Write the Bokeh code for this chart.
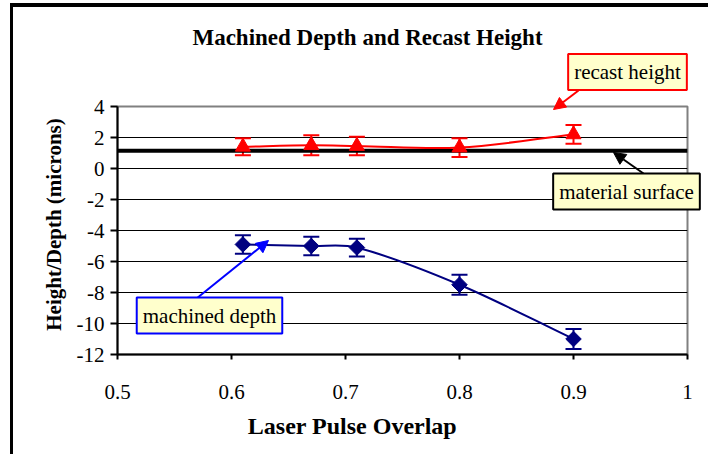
import numpy as np
from bokeh.plotting import figure
from bokeh.layouts import column
from bokeh.models import (Range1d, FixedTicker, NumeralTickFormatter, ColumnDataSource,
                          Whisker, TeeHead, Label, Arrow, NormalHead)
from bokeh.embed import file_html
from bokeh.resources import INLINE

# ---------------- data ----------------
overlap = [0.61, 0.67, 0.71, 0.80, 0.90]
recast_height = [1.4, 1.5, 1.45, 1.35, 2.2]
recast_err = [0.55, 0.65, 0.6, 0.6, 0.6]
machined_depth = [-4.9, -5.0, -5.1, -7.5, -11.0]
machined_err = [0.6, 0.6, 0.57, 0.65, 0.65]
surface_x = [0.5, 1.0]
surface_y = [1.15, 1.15]
x_ticks = [0.5, 0.6, 0.7, 0.8, 0.9, 1.0]
y_ticks = [-12, -10, -8, -6, -4, -2, 0, 2, 4]

RED = "#FF0000"
NAVY = "#000080"
BLUE = "#0000FF"
FONT = "Liberation Serif"

# ---------------- layout (page pixels) ----------------
OX, OY = 13, 7            # canvas origin on the page (after CSS border)
FX0, FX1 = 117, 687       # frame left/right on the page
FY0, FY1 = 106, 354       # frame top/bottom on the page
PW, PH = 705, 451         # page area used by the overlay

W, H = 698, 451
p = figure(width=W, height=H, output_backend="svg", toolbar_location=None,
           x_range=Range1d(0.5, 1.0), y_range=Range1d(-12, 4),
           min_border_left=FX0 - OX, min_border_right=W - (FX1 - OX),
           min_border_top=FY0 - OY, min_border_bottom=H - (FY1 - OY))
p.styles = {"margin-left": "10px", "margin-top": "3px",
            "border-left": "3px solid black", "border-top": "4px solid black"}
p.background_fill_color = "white"
p.border_fill_color = "white"
p.outline_line_color = "#808080"
p.outline_line_width = 2

# axes
for ax in (p.xaxis[0], p.yaxis[0]):
    ax.axis_line_color = "black"
    ax.axis_line_width = 2
    ax.major_tick_line_color = "black"
    ax.major_tick_line_width = 2
    ax.major_tick_in = 0
    ax.minor_tick_in = 0
    ax.minor_tick_out = 0
    ax.major_label_text_font = FONT
    ax.major_label_text_font_size = "21px"
    ax.major_label_text_color = "black"
p.xaxis.ticker = FixedTicker(ticks=x_ticks)
p.xaxis.formatter = NumeralTickFormatter(format="0.[0]")
p.xaxis.major_tick_out = 5
p.xaxis.major_label_standoff = 25
p.yaxis.ticker = FixedTicker(ticks=y_ticks)
p.yaxis.formatter = NumeralTickFormatter(format="0")
p.yaxis.major_tick_out = 7
p.yaxis.major_label_standoff = 6

p.xgrid.visible = False
p.ygrid.ticker = FixedTicker(ticks=y_ticks[1:-1])
p.ygrid.grid_line_color = "black"
p.ygrid.grid_line_width = 1

# material surface
p.line(surface_x, surface_y, line_color="black", line_width=4)

# smoothed curves (cubic Hermite bezier through the data points)
def smooth(xs, ys):
    n = len(xs)
    m = []
    for i in range(n):
        a, b = max(i - 1, 0), min(i + 1, n - 1)
        m.append((ys[b] - ys[a]) / (xs[b] - xs[a]))
    out = dict(x0=[], y0=[], x1=[], y1=[], cx0=[], cy0=[], cx1=[], cy1=[])
    for i in range(n - 1):
        h = xs[i + 1] - xs[i]
        out["x0"].append(xs[i]); out["y0"].append(ys[i])
        out["x1"].append(xs[i + 1]); out["y1"].append(ys[i + 1])
        out["cx0"].append(xs[i] + h / 3.0)
        out["cy0"].append(ys[i] + m[i] * h / 3.0)
        out["cx1"].append(xs[i + 1] - h / 3.0)
        out["cy1"].append(ys[i + 1] - m[i + 1] * h / 3.0)
    return ColumnDataSource(out)

for ys, col in ((recast_height, RED), (machined_depth, NAVY)):
    p.bezier(x0="x0", y0="y0", x1="x1", y1="y1", cx0="cx0", cy0="cy0",
             cx1="cx1", cy1="cy1", source=smooth(overlap, ys),
             line_color=col, line_width=2)

# error bars
for ys, es, col in ((recast_height, recast_err, RED), (machined_depth, machined_err, NAVY)):
    src = ColumnDataSource(dict(x=overlap,
                                lo=[y - e for y, e in zip(ys, es)],
                                hi=[y + e for y, e in zip(ys, es)]))
    p.add_layout(Whisker(source=src, base="x", lower="lo", upper="hi",
                         line_color=col, line_width=2,
                         upper_head=TeeHead(size=16, line_color=col, line_width=2),
                         lower_head=TeeHead(size=16, line_color=col, line_width=2)))

# markers
p.scatter(overlap, recast_height, marker="triangle", size=15,
          fill_color=RED, line_color=RED)
p.scatter(overlap, machined_depth, marker="square", angle=np.pi / 4, size=11,
          fill_color=NAVY, line_color=NAVY)

# ---------------- transparent overlay for titles and callouts ----------------
ov = figure(width=PW, height=PH, output_backend="svg", toolbar_location=None,
            x_range=Range1d(0, PW), y_range=Range1d(PH, 0),
            x_axis_location=None, y_axis_location=None, min_border=0)
ov.grid.visible = False
ov.outline_line_color = None
ov.background_fill_alpha = 0
ov.border_fill_alpha = 0
ov.styles = {"position": "absolute", "left": "0px", "top": "0px",
             "pointer-events": "none"}
for fig in (p, ov):
    if "frame_align" in fig.properties():
        fig.frame_align = False

def text(t, ix, iy, size, bold=True, angle=0.0):
    ov.add_layout(Label(x=ix, y=iy, text=t, angle=angle, text_font=FONT,
                        text_font_size=size,
                        text_font_style="bold" if bold else "normal",
                        text_align="center", text_baseline="middle", text_color="black"))

text("Machined Depth and Recast Height", 367, 36.5, "23px")
text("Laser Pulse Overlap", 352, 425, "24px")
text("Height/Depth (microns)", 53, 224, "21px", angle=np.pi / 2)

def callout(t, ix, iy, border):
    ov.add_layout(Label(x=ix, y=iy, text=t, text_font=FONT,
                        text_font_size="21px", text_color="black",
                        text_align="center", text_baseline="middle",
                        background_fill_color="#FFFFCC", background_fill_alpha=1,
                        border_line_color=border, border_line_width=2, padding=6))

def arrow(x0, y0, x1, y1, col):
    ov.add_layout(Arrow(x_start=x0, y_start=y0, x_end=x1, y_end=y1,
                        line_color=col, line_width=2,
                        end=NormalHead(size=12, fill_color=col, line_color=col)))

arrow(578, 90, 553, 109, RED)
arrow(643, 173, 613, 152, "black")
arrow(196, 298, 268, 240, BLUE)
callout("recast height", 627, 71.5, RED)
callout("material surface", 626, 191, "black")
callout("machined depth", 209, 315, BLUE)

root = column(p, ov)
open("out.html", "w").write(file_html(root, INLINE))
